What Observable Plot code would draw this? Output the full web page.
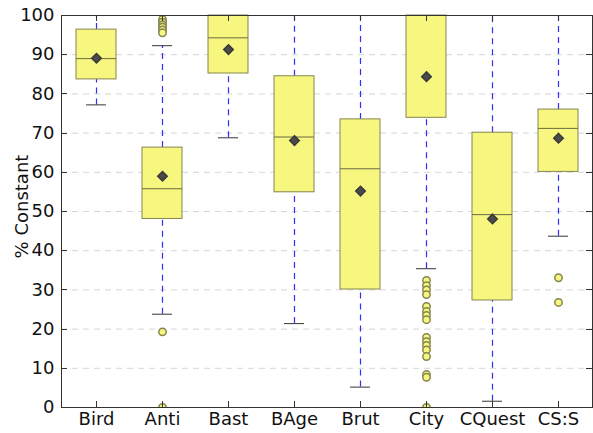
<!DOCTYPE html>
<html>
<head>
<meta charset="utf-8">
<script src="https://cdn.jsdelivr.net/npm/d3@7"></script>
<script src="https://cdn.jsdelivr.net/npm/@observablehq/plot@0.6"></script>
<style>
  html, body { margin: 0; padding: 0; background: white; }
</style>
</head>
<body>
<div id="chart"></div>
<script>
const cats = ["Bird", "Anti", "Bast", "BAge", "Brut", "City", "CQuest", "CS:S"];
const q1 = [83.7, 48.1, 85.2, 54.9, 30.1, 73.9, 27.3, 60.1];
const medians = [89.0, 55.8, 94.3, 69.0, 60.9, 100, 49.2, 71.2];
const q3 = [96.4, 66.3, 100, 84.5, 73.5, 100, 70.1, 76.0];
const whiskerLo = [77.2, 23.8, 68.8, 21.4, 5.2, 35.4, 1.6, 43.7];
const whiskerHi = [100, 92.3, 100, 100, 100, 100, 100, 100];
const means = [89.1, 59.0, 91.3, 68.1, 55.2, 84.4, 48.1, 68.7];

const outlierCats = [
  "Anti", "Anti", "Anti", "Anti", "Anti", "Anti", "Anti", "Anti",
  "City", "City", "City", "City", "City", "City", "City", "City",
  "City", "City", "City", "City", "City", "City", "City", "City",
  "CS:S", "CS:S"
];
const outlierVals = [
  99.0, 98.3, 97.6, 97.0, 96.3, 95.6, 19.3, 0,
  32.4, 31.1, 30.0, 28.8, 25.8, 24.5, 23.5, 22.4,
  17.9, 16.8, 15.8, 14.7, 13.0, 8.4, 7.7, 0,
  33.1, 26.8
];

const yTicks = [0, 10, 20, 30, 40, 50, 60, 70, 80, 90, 100];
const yLabel = "% Constant";

const boxes = cats.map((c, i) => ({
  cat: c, q1: q1[i], median: medians[i], q3: q3[i],
  lo: whiskerLo[i], hi: whiskerHi[i], mean: means[i]
}));
const outliers = outlierCats.map((c, i) => ({cat: c, value: outlierVals[i]}));

const boxFill = "#f7f77f";
const boxStroke = "#85854f";
const whiskerColor = "#2e2eff";

function innerTicks(index, scales, values, dimensions) {
  const {x, y} = scales;
  const {width, height, marginLeft, marginRight, marginTop, marginBottom} = dimensions;
  const g = d3.create("svg:g").attr("stroke", "#333").attr("stroke-width", 1);
  const L = marginLeft, R = width - marginRight, T = marginTop, B = height - marginBottom;
  for (const t of yTicks) {
    const yy = Math.round(y(t)) + 0.5;
    g.append("line").attr("x1", L).attr("x2", L + 6).attr("y1", yy).attr("y2", yy);
    g.append("line").attr("x1", R - 6).attr("x2", R).attr("y1", yy).attr("y2", yy);
  }
  const bw = x.bandwidth ? x.bandwidth() : 0;
  for (const c of cats) {
    const xx = Math.round(x(c) + bw / 2) + 0.5;
    g.append("line").attr("x1", xx).attr("x2", xx).attr("y1", B).attr("y2", B - 6);
    g.append("line").attr("x1", xx).attr("x2", xx).attr("y1", T).attr("y2", T + 6);
  }
  return g.node();
}

const chart = Plot.plot({
  width: 593,
  height: 433,
  marginLeft: 61,
  marginRight: 1,
  marginTop: 15,
  marginBottom: 26,
  style: {fontFamily: "'DejaVu Sans'", fontSize: "18px", background: "white", color: "#111"},
  x: {domain: cats, padding: 0, label: null},
  y: {domain: [0, 100], label: null},
  marks: [
    Plot.ruleY(yTicks.slice(1, -1), {stroke: "#d6d6d6", strokeDasharray: "6,5"}),
    Plot.ruleX(boxes, {x: "cat", y1: "q3", y2: "hi", stroke: whiskerColor, strokeWidth: 1.2, strokeDasharray: "6,5"}),
    Plot.ruleX(boxes, {x: "cat", y1: "lo", y2: "q1", stroke: whiskerColor, strokeWidth: 1.2, strokeDasharray: "6,5"}),
    Plot.tickY(boxes, {x: "cat", y: "lo", stroke: "#333", insetLeft: 23, insetRight: 23}),
    Plot.tickY(boxes, {x: "cat", y: "hi", stroke: "#333", insetLeft: 23, insetRight: 23}),
    Plot.barY(boxes, {x: "cat", y1: "q1", y2: "q3", fill: boxFill, stroke: boxStroke, insetLeft: 13, insetRight: 13}),
    Plot.tickY(boxes, {x: "cat", y: "median", stroke: "#6b6b45", insetLeft: 13, insetRight: 13}),
    Plot.dot(outliers, {x: "cat", y: "value", r: 3.7, fill: boxFill, stroke: boxStroke, clip: true}),
    Plot.dot(boxes, {x: "cat", y: "mean", symbol: "diamond2", r: 4.3, fill: "#4a4a4a", stroke: "#3a3a3a"}),
    Plot.axisY(yTicks, {tickSize: 0, tickPadding: 7, fontSize: 18}),
    Plot.axisX({tickSize: 0, tickPadding: 5, fontSize: 18}),
    Plot.text([yLabel], {frameAnchor: "left", textAnchor: "middle", dx: -39, dy: -5, rotate: -90, fontSize: 18, fill: "#111"}),
    Plot.frame({stroke: "#333"}),
    innerTicks
  ]
});
document.getElementById("chart").append(chart);
</script>
</body>
</html>
